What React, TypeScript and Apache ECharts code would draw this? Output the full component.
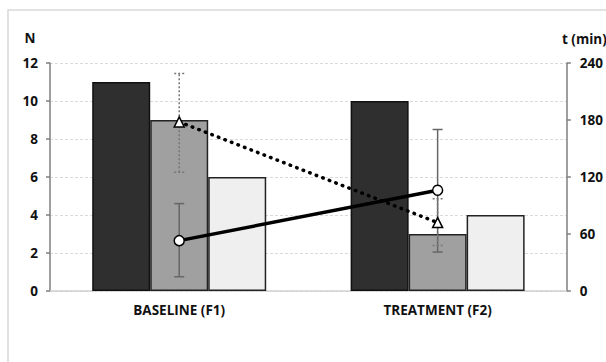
import React, { useEffect, useRef } from "react";
import * as echarts from "echarts";

const categories = ["BASELINE (F1)", "TREATMENT (F2)"];
const darkBars = [11, 10];
const grayBars = [9, 3];
const lightBars = [6, 4];
const circleLine = [53, 106];
const circleLow = [15, 41];
const circleHigh = [92, 170];
const triangleLine = [178, 72];
const triangleLow = [125, 48];
const triangleHigh = [229, 97];
const leftTicks = [0, 12, 2];
const rightTicks = [0, 240, 60];
const leftAxisName = "N";
const rightAxisName = "t (min)";

const FONT = "'Open Sans', 'Noto Sans', sans-serif";

function errorSeries(low: number[], high: number[], dashed: boolean) {
  return {
    type: "custom",
    yAxisIndex: 1,
    z: 5,
    data: low.map((l, i) => [i, l, high[i]]),
    renderItem: (params: any, api: any) => {
      const x = api.value(0);
      const lo = api.coord([x, api.value(1)]);
      const hi = api.coord([x, api.value(2)]);
      const cap = 5;
      const style = {
        stroke: dashed ? "#777" : "#666",
        lineWidth: 1.5,
        lineDash: dashed ? [2, 2] : null,
      };
      return {
        type: "group",
        children: [
          { type: "line", shape: { x1: lo[0], y1: lo[1], x2: hi[0], y2: hi[1] }, style },
          { type: "line", shape: { x1: hi[0] - cap, y1: hi[1], x2: hi[0] + cap, y2: hi[1] }, style },
          { type: "line", shape: { x1: lo[0] - cap, y1: lo[1], x2: lo[0] + cap, y2: lo[1] }, style },
        ],
      };
    },
  };
}

export default function App() {
  const ref = useRef<HTMLDivElement>(null);
  useEffect(() => {
    if (!ref.current) return;
    const chart = echarts.init(ref.current, null, { renderer: "svg" });
    const axisLine = { show: true, lineStyle: { color: "#7f7f7f", width: 1.5 } };
    const axisTick = { show: true, inside: false, length: 4, lineStyle: { color: "#7f7f7f", width: 1.5 } };
    const labelStyle = { color: "#111", fontWeight: "bold", fontSize: 13.5, fontFamily: FONT };
    chart.setOption({
      animation: false,
      backgroundColor: "#fff",
      graphic: [
        {
          type: "rect",
          shape: { x: 8, y: 10, width: 640, height: 400 },
          style: { fill: "none", stroke: "#d9d9d9", lineWidth: 1.5 },
          silent: true,
        },
        {
          type: "text",
          x: 30,
          y: 45,
          style: { text: leftAxisName, ...labelStyle, fill: "#111", align: "center", verticalAlign: "bottom", font: `bold 14px ${FONT}` },
        },
        {
          type: "text",
          x: 562,
          y: 46,
          style: { text: rightAxisName, fill: "#111", align: "left", verticalAlign: "bottom", font: `bold 13.5px ${FONT}` },
        },
      ],
      grid: { left: 50, right: 36, top: 63, bottom: 71 },
      xAxis: {
        type: "category",
        data: categories,
        axisLine: { show: true, lineStyle: { color: "#d0d0d0", width: 1.5 } },
        axisTick: { show: false },
        axisLabel: { ...labelStyle, fontSize: 13.5, margin: 12 },
      },
      yAxis: [
        {
          type: "value",
          min: leftTicks[0],
          max: leftTicks[1],
          interval: leftTicks[2],
          position: "left",
          axisLine,
          axisTick,
          axisLabel: { ...labelStyle, margin: 12 },
          splitLine: { show: true, lineStyle: { color: "#dadada", type: [3, 2], width: 1 } },
        },
        {
          type: "value",
          min: rightTicks[0],
          max: rightTicks[1],
          interval: rightTicks[2],
          position: "right",
          axisLine,
          axisTick,
          axisLabel: { ...labelStyle, margin: 13 },
          splitLine: { show: false },
        },
      ],
      series: [
        {
          type: "bar",
          data: darkBars,
          barWidth: 58,
          barGap: "0%",
          itemStyle: { color: "#2f2f2f", borderColor: "#111", borderWidth: 1.5 },
        },
        {
          type: "bar",
          data: grayBars,
          barWidth: 58,
          barGap: "0%",
          itemStyle: { color: "#a0a0a0", borderColor: "#222", borderWidth: 1.5 },
        },
        {
          type: "bar",
          data: lightBars,
          barWidth: 58,
          barGap: "0%",
          itemStyle: { color: "#efefef", borderColor: "#222", borderWidth: 1.5 },
        },
        errorSeries(circleLow, circleHigh, false),
        errorSeries(triangleLow, triangleHigh, true),
        {
          type: "line",
          yAxisIndex: 1,
          data: triangleLine,
          z: 8,
          symbol: "triangle",
          symbolSize: 10,
          lineStyle: { color: "#000", width: 3.5, type: [0.5, 6.5], cap: "round" },
          itemStyle: { color: "#fff", borderColor: "#000", borderWidth: 1.5 },
        },
        {
          type: "line",
          yAxisIndex: 1,
          data: circleLine,
          z: 9,
          symbol: "circle",
          symbolSize: 10,
          lineStyle: { color: "#000", width: 3.5 },
          itemStyle: { color: "#fff", borderColor: "#000", borderWidth: 1.5 },
        },
      ],
    });
    return () => chart.dispose();
  }, []);
  return (
    <div
      ref={ref}
      style={{ position: "absolute", left: 0, top: 0, width: 606, height: 362 }}
    />
  );
}
